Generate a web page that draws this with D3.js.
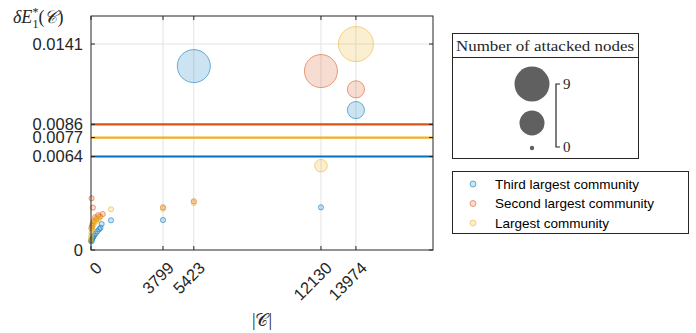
<html>
<head>
<meta charset="utf-8" />
<title>Attacked communities</title>
<style>
  body { margin: 0; padding: 0; background: #fff; }
  svg { display: block; }
  .tick-label { font-family: "Liberation Sans", Arial, sans-serif; font-size: 16.5px; fill: #262626; }
  .grid line { stroke: #e3e3e3; stroke-width: 1; }
  .frame { fill: none; stroke: #262626; stroke-width: 1; }
  .leg-text { font-family: "Liberation Sans", Arial, sans-serif; font-size: 13.5px; fill: #000; }
  .serif { font-family: "Liberation Serif", "DejaVu Serif", serif; fill: #262626; }
</style>
<script src="https://d3js.org/d3.v7.min.js"></script>
</head>
<body>
<script>
// community size |C| on x, delta E on y, number of attacked nodes -> bubble area
var thirdSize     = [13974, 5423, 12130, 3799, 1055, 560, 500, 430, 330, 240, 160, 110, 70, 40, 20, 10];
var thirdValue    = [0.00958, 0.01259, 0.00292, 0.00205, 0.00203, 0.00178, 0.00152, 0.00142, 0.00128, 0.00112, 0.00098, 0.00088, 0.00078, 0.00068, 0.00058, 0.00066];
var thirdAttacked = [2, 8, 0, 0, 0, 0, 0, 0, 0, 0, 0, 0, 0, 0, 0, 0];

var secondSize     = [12130, 13974, 5423, 3799, 30, 100, 620, 480, 380, 300, 220, 150, 90, 50, 20];
var secondValue    = [0.01225, 0.0110, 0.00333, 0.00292, 0.00354, 0.0029, 0.00246, 0.00228, 0.00238, 0.00214, 0.00224, 0.00198, 0.0018, 0.00165, 0.0015];
var secondAttacked = [8, 2, 0, 0, 0, 0, 0, 0, 0, 0, 0, 0, 0, 0, 0];

var largestSize     = [13974, 12130, 5423, 3799, 1055, 480, 400, 330, 260, 200, 150, 110, 80, 50, 30, 15, 8, 5];
var largestValue    = [0.0141, 0.00577, 0.00322, 0.00283, 0.00279, 0.00232, 0.0021, 0.00218, 0.00196, 0.00204, 0.00176, 0.00186, 0.00156, 0.0014, 0.00118, 0.00098, 0.0008, 0.0006];
var largestAttacked = [9, 1, 0, 0, 0, 0, 0, 0, 0, 0, 0, 0, 0, 0, 0, 0, 0, 0];

// horizontal reference levels per community
var levelValue = [0.0064, 0.0086, 0.0077];

var seriesNames = ["Third largest community", "Second largest community", "Largest community"];
var seriesColors = ["#0072BD", "#D95319", "#EDB120"];

var xTicks = [0, 3799, 5423, 12130, 13974];
var yTicks = [0, 0.0064, 0.0077, 0.0086, 0.0141];
var sizeLegend = [9, 4.5, 0];

var W = 696, H = 333;
var mLeft = 91, mRight = 433, mTop = 16, mBottom = 250;

var x = d3.scaleLinear().domain([0, 18040]).range([mLeft, mRight]);
var y = d3.scaleLinear().domain([0, 0.01602]).range([mBottom, mTop]);
// area grows linearly with attacked nodes
var area = d3.scaleLinear().domain([0, 9]).range([2.6 * 2.6, 17.5 * 17.5]);
function radius(v) { return Math.sqrt(area(v)); }

var svg = d3.select("body").append("svg").attr("width", W).attr("height", H);

// grid
var grid = svg.append("g").attr("class", "grid");
grid.selectAll(".gx").data(xTicks.slice(1)).enter().append("line")
  .attr("x1", function (d) { return x(d); }).attr("x2", function (d) { return x(d); })
  .attr("y1", mTop).attr("y2", mBottom);
grid.selectAll(".gy").data(yTicks.slice(1)).enter().append("line")
  .attr("x1", mLeft).attr("x2", mRight)
  .attr("y1", function (d) { return y(d); }).attr("y2", function (d) { return y(d); });

// reference lines
var levels = svg.append("g");
levelValue.forEach(function (v, i) {
  levels.append("line")
    .attr("x1", mLeft).attr("x2", mRight)
    .attr("y1", y(v)).attr("y2", y(v))
    .attr("stroke", seriesColors[i]).attr("stroke-width", 2.2);
});

// bubbles
var series = [
  { size: thirdSize, value: thirdValue, attacked: thirdAttacked },
  { size: secondSize, value: secondValue, attacked: secondAttacked },
  { size: largestSize, value: largestValue, attacked: largestAttacked }
];
series.forEach(function (s, i) {
  var pts = s.size.map(function (c, j) { return { c: c, v: s.value[j], n: s.attacked[j] }; });
  svg.append("g").selectAll("circle").data(pts).enter().append("circle")
    .attr("cx", function (d) { return x(d.c); })
    .attr("cy", function (d) { return y(d.v); })
    .attr("r", function (d) { return radius(d.n); })
    .attr("fill", seriesColors[i]).attr("fill-opacity", 0.2)
    .attr("stroke", seriesColors[i]).attr("stroke-opacity", 0.55).attr("stroke-width", 1);
});

// axes box with inward ticks
svg.append("rect").attr("class", "frame")
  .attr("x", mLeft).attr("y", mTop).attr("width", mRight - mLeft).attr("height", mBottom - mTop);
var ticks = svg.append("g").attr("stroke", "#262626").attr("stroke-width", 1);
xTicks.forEach(function (t) {
  ticks.append("line").attr("x1", x(t)).attr("x2", x(t)).attr("y1", mBottom).attr("y2", mBottom - 4);
  ticks.append("line").attr("x1", x(t)).attr("x2", x(t)).attr("y1", mTop).attr("y2", mTop + 4);
});
yTicks.forEach(function (t) {
  ticks.append("line").attr("x1", mLeft).attr("x2", mLeft + 4).attr("y1", y(t)).attr("y2", y(t));
  ticks.append("line").attr("x1", mRight).attr("x2", mRight - 4).attr("y1", y(t)).attr("y2", y(t));
});

// tick labels
svg.append("g").selectAll("text").data(yTicks).enter().append("text")
  .attr("class", "tick-label")
  .attr("x", mLeft - 8).attr("y", function (d) { return y(d); })
  .attr("dy", "0.35em").attr("text-anchor", "end")
  .text(function (d) { return d === 0 ? "0" : d3.format(".4f")(d); });

svg.append("g").selectAll("text").data(xTicks).enter().append("text")
  .attr("class", "tick-label")
  .attr("text-anchor", "end").attr("dy", "0.35em")
  .attr("transform", function (d) { return "translate(" + (x(d) + 8) + "," + (mBottom + 15) + ") rotate(-45)"; })
  .text(function (d) { return d; });

// axis titles
var yl = svg.append("text").attr("class", "serif").attr("x", 13).attr("y", 23)
  .attr("font-size", 18).attr("font-style", "italic");
yl.append("tspan").text("\u03B4E");
yl.append("tspan").attr("font-size", 12).attr("dy", 5).attr("font-style", "normal").text("1");
yl.append("tspan").attr("font-size", 12).attr("dx", -6).attr("dy", -12).attr("font-style", "normal").text("*");
yl.append("tspan").attr("dy", 7).attr("font-style", "normal").text("(");
yl.append("tspan").text("\uD835\uDC9E");
yl.append("tspan").attr("font-style", "normal").text(")");

svg.append("text").attr("class", "serif").attr("x", 262).attr("y", 326)
  .attr("text-anchor", "middle").attr("font-size", 18)
  .text("|\uD835\uDC9E|");

// size legend
var sl = svg.append("g");
sl.append("rect").attr("x", 452.5).attr("y", 33.5).attr("width", 186).attr("height", 125)
  .attr("fill", "#fff").attr("stroke", "#262626");
sl.append("line").attr("x1", 452.5).attr("x2", 638.5).attr("y1", 57.5).attr("y2", 57.5).attr("stroke", "#262626");
sl.append("text").attr("class", "serif").attr("x", 545).attr("y", 51)
  .attr("text-anchor", "middle").attr("font-size", 14.5).attr("fill", "#000")
  .attr("textLength", 178).attr("lengthAdjust", "spacingAndGlyphs")
  .text("Number of attacked nodes");
var legY = d3.scaleLinear().domain([9, 4.5, 0]).range([84, 123, 148]);
sl.selectAll("circle").data(sizeLegend).enter().append("circle")
  .attr("cx", 532).attr("cy", function (d) { return legY(d); })
  .attr("r", function (d) { return d === 0 ? 2.2 : radius(d); })
  .attr("fill", "#606060");
sl.append("path").attr("fill", "none").attr("stroke", "#262626").attr("stroke-width", 1.2)
  .attr("d", "M560,84 H556 V147 H560");
sl.append("text").attr("class", "serif").attr("x", 563).attr("y", legY(9)).attr("dy", "0.35em")
  .attr("font-size", 15).attr("fill", "#000").text(sizeLegend[0]);
sl.append("text").attr("class", "serif").attr("x", 563).attr("y", 147).attr("dy", "0.35em")
  .attr("font-size", 15).attr("fill", "#000").text(sizeLegend[2]);

// series legend
var lg = svg.append("g");
lg.append("rect").attr("x", 452.5).attr("y", 171.5).attr("width", 236).attr("height", 62)
  .attr("fill", "#fff").attr("stroke", "#262626");
seriesNames.forEach(function (name, i) {
  var ry = 184 + i * 19.5;
  lg.append("circle").attr("cx", 473).attr("cy", ry).attr("r", 3)
    .attr("fill", seriesColors[i]).attr("fill-opacity", 0.2)
    .attr("stroke", seriesColors[i]).attr("stroke-opacity", 0.55);
  lg.append("text").attr("class", "leg-text").attr("x", 495).attr("y", ry).attr("dy", "0.35em").text(name);
});
</script>
</body>
</html>
